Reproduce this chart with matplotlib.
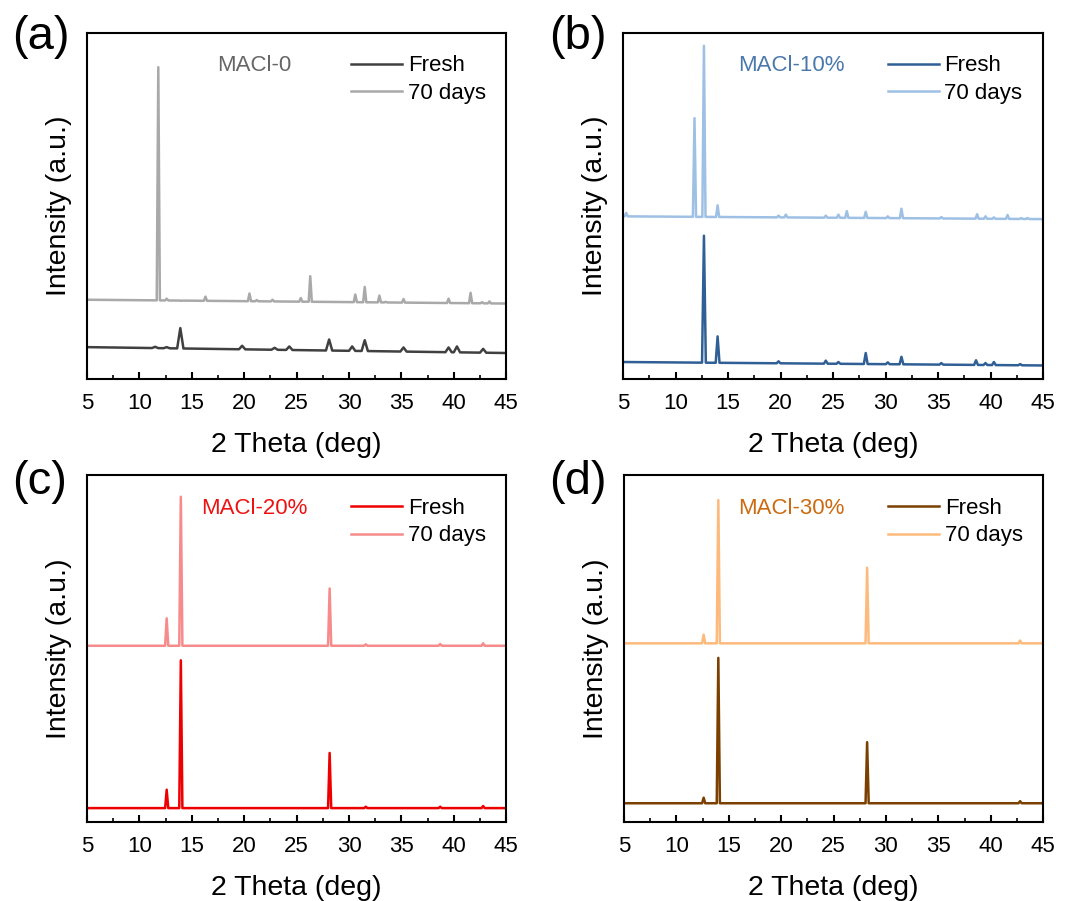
import numpy as np
import matplotlib
matplotlib.use("Agg")
import matplotlib.pyplot as plt
from matplotlib.ticker import MultipleLocator

plt.rcParams["font.family"] = ["Liberation Sans", "DejaVu Sans"]

# === Data (2 theta in deg, intensity in arbitrary units)
# baselines are given at 2theta = 5 and 45, peaks as (position, apex height)

# (a) MACl-0
a_fresh_base = [9.2, 7.5]
a_fresh_pos = [11.5, 12.6, 13.9, 19.8, 22.9, 24.3, 28.1, 30.3, 31.5, 35.2, 39.5, 40.3, 42.8]
a_fresh_top = [9.3, 9.2, 14.7, 9.6, 9.0, 9.4, 11.4, 9.4, 11.2, 9.1, 9.1, 9.4, 8.7]
a_aged_base = [22.9, 21.8]
a_aged_pos = [11.8, 12.6, 14.0, 16.3, 20.5, 21.2, 22.7, 25.4, 26.3, 30.6, 31.5, 32.9, 33.5, 35.2, 39.5, 41.6, 42.7, 43.4]
a_aged_top = [90.1, 23.2, 22.6, 23.8, 24.7, 22.8, 22.9, 23.4, 29.7, 24.4, 26.6, 24.1, 22.3, 23.1, 23.2, 24.9, 22.2, 22.4]

# (b) MACl-10%
b_fresh_base = [4.9, 3.9]
b_fresh_pos = [12.7, 14.0, 19.8, 24.3, 25.5, 28.1, 30.2, 31.5, 35.3, 38.6, 39.5, 40.3, 42.8]
b_fresh_top = [41.4, 12.3, 5.1, 5.3, 4.9, 7.5, 4.8, 6.4, 4.6, 5.4, 4.6, 4.9, 4.3]
b_aged_base = [47.0, 46.2]
b_aged_pos = [5.3, 11.8, 12.7, 14.0, 19.8, 20.5, 24.3, 25.5, 26.3, 28.1, 30.2, 31.5, 35.3, 38.7, 39.5, 40.3, 41.6, 42.9, 43.5]
b_aged_top = [48.0, 75.4, 96.3, 50.2, 47.2, 47.5, 47.2, 47.5, 48.5, 48.3, 47.0, 49.2, 46.8, 47.6, 47.0, 46.7, 47.4, 46.5, 46.5]

# (c) MACl-20%
c_fresh_base = [4.0, 4.0]
c_fresh_pos = [12.6, 13.95, 28.15, 31.6, 38.7, 42.8]
c_fresh_top = [9.3, 46.6, 19.9, 4.4, 4.4, 4.6]
c_aged_base = [50.8, 50.8]
c_aged_pos = [12.6, 13.95, 28.15, 31.6, 38.7, 42.8]
c_aged_top = [58.7, 93.75, 67.3, 51.2, 51.3, 51.5]

# (d) MACl-30%
d_fresh_base = [5.4, 5.4]
d_fresh_pos = [12.6, 14.0, 28.2, 42.8]
d_fresh_top = [7.0, 47.3, 23.0, 6.0]
d_aged_base = [51.5, 51.5]
d_aged_pos = [12.6, 14.0, 28.2, 42.8]
d_aged_top = [54.0, 92.8, 73.3, 52.3]

samples = ["MACl-0", "MACl-10%", "MACl-20%", "MACl-30%"]
series_names = ["Fresh", "70 days"]


def pattern(base, pos, top, hw):
    # polyline: baseline end points plus a narrow spike at each peak
    xs, ys = [5.0], [base[0]]
    for p, t in zip(pos, top):
        for x in (p - hw, p, p + hw):
            xs.append(x)
            ys.append(t if x == p else np.interp(x, [5, 45], base))
    xs.append(45.0)
    ys.append(base[1])
    return xs, ys


panels = [
    ((a_fresh_base, a_fresh_pos, a_fresh_top), (a_aged_base, a_aged_pos, a_aged_top)),
    ((b_fresh_base, b_fresh_pos, b_fresh_top), (b_aged_base, b_aged_pos, b_aged_top)),
    ((c_fresh_base, c_fresh_pos, c_fresh_top), (c_aged_base, c_aged_pos, c_aged_top)),
    ((d_fresh_base, d_fresh_pos, d_fresh_top), (d_aged_base, d_aged_pos, d_aged_top)),
]

colors = [("#404040", "#a9a9a9"), ("#2f5f95", "#9ec0e4"),
          ("#ee0000", "#f78b8b"), ("#7b3f00", "#fdba7c")]
label_colors = ["#666666", "#4a78ad", "#ee1111", "#cc6a10"]
widths = [(0.3, 0.15), (0.18, 0.15), (0.15, 0.15), (0.15, 0.15)]
letters = ["(a)", "(b)", "(c)", "(d)"]

fig = plt.figure(figsize=(10.72, 9.01), dpi=100)
rects = [[0.0812, 0.5794, 0.391, 0.384], [0.5812, 0.5794, 0.392, 0.384],
         [0.0812, 0.0877, 0.391, 0.385], [0.5821, 0.0877, 0.391, 0.385]]
letter_pos = [(0.011, 0.959), (0.512, 0.959), (0.011, 0.465), (0.512, 0.465)]

for i, (fresh, aged) in enumerate(panels):
    ax = fig.add_axes(rects[i])
    xf, yf = pattern(*fresh, widths[i][0])
    xa, ya = pattern(*aged, widths[i][1])
    ax.plot(xf, yf, color=colors[i][0], lw=1.8, label=series_names[0])
    ax.plot(xa, ya, color=colors[i][1], lw=1.8, label=series_names[1])

    ax.set_xlim(5, 45)
    ax.set_ylim(0, 100)
    ax.xaxis.set_major_locator(MultipleLocator(5))
    ax.xaxis.set_minor_locator(MultipleLocator(2.5))
    ax.tick_params(axis="x", which="major", direction="in", length=5, width=1.5,
                   labelsize=16, pad=10)
    ax.tick_params(axis="x", which="minor", direction="in", length=3, width=1.2)
    ax.set_yticks([])
    for s in ax.spines.values():
        s.set_linewidth(1.5)

    ax.set_xlabel("2 Theta (deg)", fontsize=20.5, labelpad=13)
    ax.set_ylabel("Intensity (a.u.)", fontsize=20.5, labelpad=11)

    ax.text(0.40, 0.905, samples[i], transform=ax.transAxes, fontsize=16,
            color=label_colors[i], ha="center", va="center")
    ax.legend(loc="upper left", bbox_to_anchor=(0.63, 0.935), frameon=False,
              fontsize=16, handlelength=2.3, handletextpad=0.25,
              labelspacing=0.3, borderpad=0, borderaxespad=0)

    fig.text(letter_pos[i][0], letter_pos[i][1], letters[i], fontsize=34,
             ha="left", va="center")

plt.savefig("out.png", dpi=100)
